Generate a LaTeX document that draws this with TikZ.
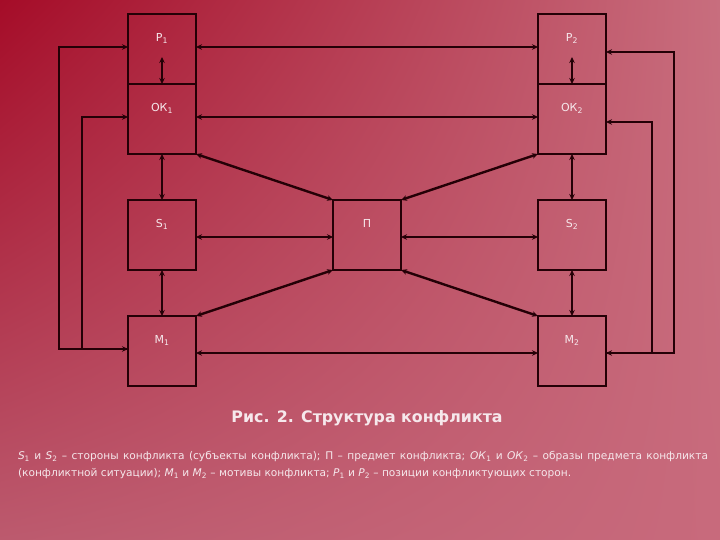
\documentclass[tikz,border=0pt]{standalone}
\usepackage{fontspec}
\setmainfont{DejaVu Sans}
\usetikzlibrary{arrows.meta,shadings}

\definecolor{bgA}{HTML}{A50C28}
\definecolor{bgB}{HTML}{C86E7E}
\definecolor{bgC}{HTML}{BC5A6E}
\definecolor{bgD}{HTML}{C86A7C}
\definecolor{edge}{HTML}{240006}
\definecolor{ink}{HTML}{F6E8EC}

\tikzset{
  box/.style={draw=edge, line width=2pt, minimum width=68pt, minimum height=70pt, inner sep=0pt, outer sep=0pt},
  tag/.style={text=ink, font=\fontsize{11}{13}\selectfont},
  link/.style={draw=edge, line width=2.4pt, {Stealth[length=6pt,width=5.5pt]}-{Stealth[length=6pt,width=5.5pt]}},
  halflink/.style={draw=edge, line width=2.4pt, {Stealth[length=6pt,width=5.5pt]}-}
}

\begin{document}
\begin{tikzpicture}[x=1pt,y=-1pt]
  % Background
  \useasboundingbox (0,0) rectangle (720,540);
  \shade[upper left=bgA, upper right=bgB, lower left=bgC, lower right=bgD] (0,0) rectangle (720,540);

  % Boxes of the two sides
  \node[box, label={[tag,anchor=north,yshift=-16pt]north:Р\textsubscript{1}}] (p1) at (162,49) {};
  \node[box, label={[tag,anchor=north,yshift=-16pt]north:ОК\textsubscript{1}}] (ok1) at (162,119) {};
  \node[box, label={[tag,anchor=north,yshift=-16pt]north:S\textsubscript{1}}] (s1) at (162,235) {};
  \node[box, label={[tag,anchor=north,yshift=-16pt]north:М\textsubscript{1}}] (m1) at (162,351) {};
  \node[box, label={[tag,anchor=north,yshift=-16pt]north:Р\textsubscript{2}}] (p2) at (572,49) {};
  \node[box, label={[tag,anchor=north,yshift=-16pt]north:ОК\textsubscript{2}}] (ok2) at (572,119) {};
  \node[box, label={[tag,anchor=north,yshift=-16pt]north:S\textsubscript{2}}] (s2) at (572,235) {};
  \node[box, label={[tag,anchor=north,yshift=-16pt]north:М\textsubscript{2}}] (m2) at (572,351) {};
  % Subject of the conflict
  \node[box, label={[tag,anchor=north,yshift=-16pt]north:П}] (pr) at (367,235) {};

  % Links inside each column
  \draw[link] ([yshift=-8pt]p1.center) -- (p1.south);
  \draw[link] ([yshift=-8pt]p2.center) -- (p2.south);
  \draw[link] (ok1.south) -- (s1.north);
  \draw[link] (ok2.south) -- (s2.north);
  \draw[link] (s1.south) -- (m1.north);
  \draw[link] (s2.south) -- (m2.north);

  % Links across
  \draw[link] ([yshift=2pt]p1.east) -- ([yshift=2pt]p2.west);
  \draw[link] ([yshift=2pt]ok1.east) -- ([yshift=2pt]ok2.west);
  \draw[link] ([yshift=-2pt]s1.east) -- ([yshift=-2pt]pr.west);
  \draw[link] ([yshift=-2pt]pr.east) -- ([yshift=-2pt]s2.west);
  \draw[link] ([yshift=-2pt]m1.east) -- ([yshift=-2pt]m2.west);

  % Links to the subject
  \draw[link] (ok1.south east) -- (pr.north west);
  \draw[link] (ok2.south west) -- (pr.north east);
  \draw[link] (pr.south west) -- (m1.north east);
  \draw[link] (pr.south east) -- (m2.north west);

  % Feedback on the left
  \draw[link] ([yshift=2pt]p1.west) -- ++(-69,0) |- ([yshift=2pt]m1.west);
  \draw[halflink] ([yshift=2pt]ok1.west) -- ++(-46,0) |- ([yshift=2pt]m1.west);

  % Feedback on the right
  \draw[link] ([yshift=-3pt]p2.east) -- ++(68,0) |- ([yshift=-2pt]m2.east);
  \draw[halflink] ([yshift=-3pt]ok2.east) -- ++(46,0) |- ([yshift=-2pt]m2.east);

  % Caption and key
  \node[text=ink, font=\bfseries\fontsize{15.8}{19}\selectfont] (cap) at (367,418) {Рис. 2. Структура конфликта};
  \node[text=ink, anchor=north, text width=690pt, align=justify, font=\fontsize{10.6}{17}\selectfont] (key) at (363,448)
    {\textit{S}\textsubscript{1} и \textit{S}\textsubscript{2} – стороны конфликта (субъекты конфликта); П – предмет конфликта; \textit{ОК}\textsubscript{1} и \textit{ОК}\textsubscript{2} – образы предмета конфликта\linebreak (конфликтной ситуации); \textit{М}\textsubscript{1} и \textit{М}\textsubscript{2} – мотивы конфликта; \textit{Р}\textsubscript{1} и \textit{Р}\textsubscript{2} – позиции конфликтующих сторон.};
\end{tikzpicture}
\end{document}
